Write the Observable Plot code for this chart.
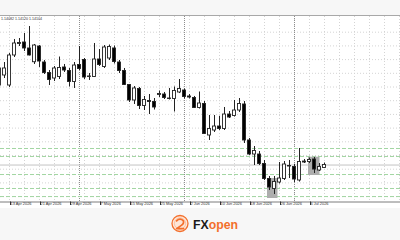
<!DOCTYPE html>
<html><head><meta charset="utf-8">
<script src="https://cdn.jsdelivr.net/npm/d3@7"></script>
<script src="https://cdn.jsdelivr.net/npm/@observablehq/plot@0.6"></script>
<style>
html,body{margin:0;padding:0;width:400px;height:240px;overflow:hidden;background:#f7f7f7;font-family:"Liberation Sans",Arial,sans-serif;}
#top{height:15px;border-bottom:1px solid #a8a8a8;background:#f7f7f7;}
#chart{height:192px;background:#fff;}
#chart svg{display:block;}
#foot{height:32px;background:#f7f7f7;}
#foot svg{display:block;}
</style></head><body>
<div id="top"></div>
<div id="chart"></div>
<div id="foot">
<svg width="400" height="32" viewBox="0 0 400 32">
  <circle cx="180" cy="15.5" r="8" fill="#fde6d8" stroke="#f36f2c" stroke-width="1.3"/>
  <circle cx="180" cy="15.5" r="5.6" fill="none" stroke="#f8a77c" stroke-width="0.6"/>
  <path d="M176.6 12.8 q3.4 -3.2 6.6 -0.2 q1.4 2.6 -2.2 5 l-4.4 3 h7" fill="none" stroke="#f36f2c" stroke-width="1.7" stroke-linecap="round" stroke-linejoin="round"/>
  <text x="193" y="20.5" font-family="Liberation Sans, Arial, sans-serif" font-weight="700" font-size="12.5" textLength="45" lengthAdjust="spacingAndGlyphs"><tspan fill="#1a1a1a">FX</tspan><tspan fill="#f36f2c">open</tspan></text>
</svg>
</div>
<script>
// Daily candles, 9 Apr 2026 .. 9 Jul 2026 (one entry per trading day)
const open  = [1.15527,1.15710,1.15527,1.16075,1.16285,1.16312,1.16203,1.15952,1.16239,1.15947,
               1.15755,1.15655,1.15682,1.15856,1.15792,1.15591,1.15901,1.15993,1.15682,1.15682,
               1.16002,1.15865,1.16020,1.16203,1.15947,1.15792,1.15536,1.15254,1.15463,1.15153,
               1.15244,1.15226,1.15354,1.15363,1.15290,1.15281,1.15400,1.15436,1.15327,1.15299,
               1.15117,1.15190,1.14615,1.14706,1.14779,1.14733,1.14998,1.14971,1.15071,1.15181,
               1.14524,1.14268,1.14268,1.14095,1.13821,1.13638,1.13757,1.13821,1.14058,1.14040,
               1.13794,1.14140,1.14131,1.14177,1.13976,1.14022];
const high  = [1.15929,1.15947,1.16111,1.16367,1.16385,1.16476,1.16604,1.16276,1.16257,1.15984,
               1.15801,1.15874,1.16047,1.15911,1.15838,1.15947,1.16239,1.16020,1.15746,1.16294,
               1.16184,1.16257,1.16266,1.16248,1.15984,1.15838,1.15546,1.15509,1.15491,1.15327,
               1.15363,1.15290,1.15427,1.15400,1.15473,1.15500,1.15637,1.15463,1.15363,1.15327,
               1.15409,1.15235,1.14980,1.14980,1.14962,1.15126,1.15053,1.15254,1.15290,1.15235,
               1.14560,1.14414,1.14323,1.14159,1.13867,1.13867,1.14122,1.14140,1.14159,1.14086,
               1.14378,1.14177,1.14204,1.14213,1.14104,1.14113];
const low   = [1.15436,1.15655,1.15491,1.16038,1.16239,1.16148,1.16066,1.15911,1.15856,1.15728,
               1.15527,1.15600,1.15637,1.15765,1.15500,1.15473,1.15801,1.15637,1.15619,1.15673,
               1.15874,1.15838,1.15984,1.15920,1.15746,1.15527,1.15217,1.15181,1.15089,1.15071,
               1.14998,1.15080,1.15308,1.15272,1.15263,1.15044,1.15381,1.15281,1.15281,1.15108,
               1.15098,1.14633,1.14524,1.14670,1.14706,1.14706,1.14925,1.14952,1.15035,1.14469,
               1.14250,1.14067,1.14067,1.13794,1.13611,1.13538,1.13730,1.13794,1.13830,1.13757,
               1.13766,1.14104,1.14104,1.13921,1.13958,1.14013];
const close = [1.15838,1.15838,1.16075,1.16294,1.16303,1.16203,1.16075,1.16257,1.15965,1.15755,
               1.15628,1.15838,1.15847,1.15801,1.15591,1.15892,1.15828,1.15673,1.15692,1.16002,
               1.15901,1.16221,1.16230,1.15956,1.15792,1.15536,1.15254,1.15473,1.15153,1.15263,
               1.15226,1.15126,1.15372,1.15299,1.15281,1.15427,1.15463,1.15317,1.15308,1.15117,
               1.15199,1.14642,1.14733,1.14779,1.14733,1.14998,1.14943,1.15071,1.15190,1.14524,
               1.14268,1.14332,1.14095,1.13821,1.13666,1.13766,1.13830,1.14086,1.14049,1.13812,
               1.14131,1.14122,1.14168,1.13994,1.14040,1.14076];

// Date labels (bar index of the labelled day) and their text
const tickBars   = [2, 8, 14, 20, 26, 32, 38, 44, 50, 56, 62];
const tickLabels = ["13 Apr 2026","21 Apr 2026","29 Apr 2026","7 May 2026","15 May 2026",
                    "25 May 2026","2 Jun 2026","10 Jun 2026","18 Jun 2026","26 Jun 2026","6 Jul 2026"];
// Month separators (1 May, 1 Jun, 1 Jul)
const monthBars = [16, 37, 59];
// Horizontal support/resistance levels (green dashed)
const levels = [1.14378, 1.14232, 1.13903, 1.13648, 1.13501];
// Highlighted zones
const zoneStart  = [53.6, 61.8];
const zoneEnd    = [55.7, 64.1];
const zoneTop    = [1.13830, 1.14219];
const zoneBottom = [1.13465, 1.13885];
// Price grid and OHLC readout
const gridPrices = [1.1350,1.1375,1.1400,1.1425,1.1450,1.1475,1.1500,1.1525,1.1550,1.1575,1.1600,1.1625,1.1650];
const readout = "1.14082 1.14120 1.14104";

const bars = open.map((o, i) => ({i, o, h: high[i], l: low[i], c: close[i]}));
const zones = zoneStart.map((s, i) => ({x1: s, x2: zoneEnd[i], y1: zoneBottom[i], y2: zoneTop[i]}));
const gridBars = d3.range(-1, 83, 3);
const lastClose = close[close.length - 1];

const chart = Plot.plot({
  width: 400,
  height: 192,
  marginTop: 0,
  marginBottom: 6.5,
  marginLeft: 0,
  marginRight: 0,
  x: {type: "linear", domain: [0.2, 80.2], axis: null},
  y: {domain: [1.134015, 1.167865], axis: null},
  style: {background: "#ffffff", fontFamily: "Liberation Sans, Arial, sans-serif"},
  marks: [
    Plot.ruleX(gridBars, {stroke: "#d4d4d4", strokeDasharray: "1,2"}),
    Plot.ruleY(gridPrices, {stroke: "#d4d4d4", strokeDasharray: "1,2"}),
    Plot.ruleX(monthBars, {stroke: "#8e8e8e", strokeDasharray: "1,1"}),
    Plot.ruleY(levels, {stroke: "#a2d6a2", strokeDasharray: "4,2"}),
    Plot.ruleY([lastClose], {stroke: "#c4c4c4"}),
    Plot.rect(zones, {x1: "x1", x2: "x2", y1: "y1", y2: "y2", fill: "#adadad"}),
    Plot.ruleX(bars, {x: "i", y1: "l", y2: "h", stroke: "#222"}),
    Plot.rect(bars, {
      x1: d => d.i - 0.3, x2: d => d.i + 0.3, y1: "o", y2: "c",
      fill: d => d.c >= d.o ? "#ffffff" : "#000000",
      stroke: "#222", strokeWidth: 0.9
    }),
    Plot.frame({anchor: "bottom", stroke: "#7c7c7c"}),
    Plot.axisX(tickBars, {
      anchor: "bottom", tickSize: 3.5, tickPadding: -3.2,
      tickFormat: d => tickLabels[tickBars.indexOf(d)],
      fontSize: 3.9, textAnchor: "start", dx: 1, color: "#333"
    }),
    Plot.text([readout], {
      text: d => d, frameAnchor: "top-left", dx: 0.5, dy: 1,
      lineAnchor: "top", textAnchor: "start", fontSize: 3.6, fill: "#333"
    })
  ]
});
document.getElementById("chart").appendChild(chart);
</script>
</body></html>
